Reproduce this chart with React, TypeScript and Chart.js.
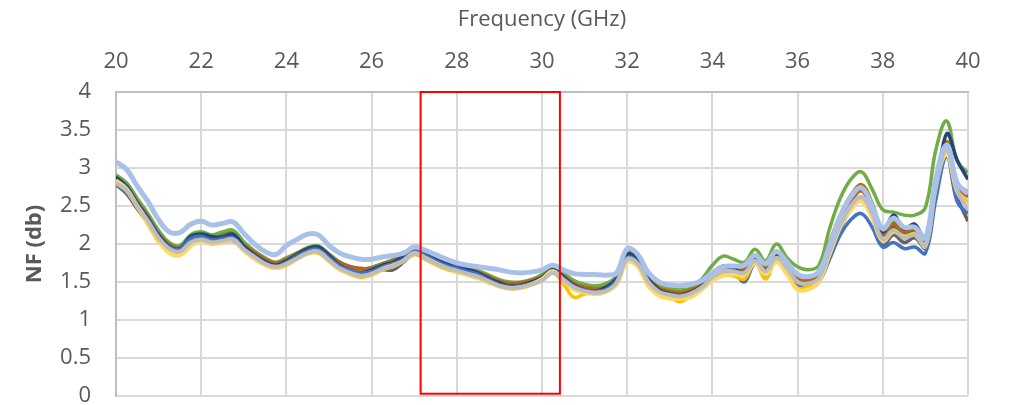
import { useEffect, useRef } from "react";
import { Chart, registerables } from "chart.js";

Chart.register(...registerables);

// Measurement frequencies (GHz)
const freqGHz = [
  20.0, 20.25, 20.5, 20.75, 21.0, 21.25, 21.5, 21.75, 22.0, 22.25,
  22.5, 22.75, 23.0, 23.25, 23.5, 23.75, 24.0, 24.25, 24.5, 24.75,
  25.0, 25.25, 25.5, 25.75, 26.0, 26.25, 26.5, 26.75, 27.0, 27.25,
  27.5, 27.75, 28.0, 28.25, 28.5, 28.75, 29.0, 29.25, 29.5, 29.75,
  30.0, 30.25, 30.5, 30.75, 31.0, 31.25, 31.5, 31.75, 32.0, 32.25,
  32.5, 32.75, 33.0, 33.25, 33.5, 33.75, 34.0, 34.25, 34.5, 34.75,
  35.0, 35.25, 35.5, 35.75, 36.0, 36.25, 36.5, 36.75, 37.0, 37.25,
  37.5, 37.75, 38.0, 38.25, 38.5, 38.75, 39.0, 39.25, 39.5, 39.75,
  40.0,
];

// Noise figure (dB) per measured channel
const nfLightBlue = [
  3.08, 2.98, 2.76, 2.56, 2.32, 2.16, 2.15, 2.26, 2.3, 2.25,
  2.27, 2.29, 2.14, 2.0, 1.9, 1.86, 1.98, 2.06, 2.13, 2.12,
  1.98, 1.88, 1.83, 1.8, 1.8, 1.83, 1.85, 1.88, 1.96, 1.92,
  1.86, 1.8, 1.75, 1.72, 1.7, 1.68, 1.66, 1.63, 1.62, 1.63,
  1.66, 1.72, 1.66, 1.61, 1.6, 1.6, 1.59, 1.62, 1.94, 1.86,
  1.62, 1.5, 1.46, 1.45, 1.47, 1.52, 1.62, 1.7, 1.71, 1.72,
  1.85, 1.74, 1.9, 1.76, 1.6, 1.57, 1.64, 1.98, 2.36, 2.62,
  2.74, 2.5, 2.2, 2.34, 2.22, 2.22, 2.08, 2.88, 3.3, 2.8,
  2.66,
];
const nfBlue = [
  2.84, 2.74, 2.52, 2.32, 2.1, 1.96, 1.93, 2.07, 2.1, 2.05,
  2.07, 2.08, 1.94, 1.84, 1.75, 1.7, 1.76, 1.84, 1.91, 1.93,
  1.82, 1.71, 1.66, 1.62, 1.64, 1.7, 1.74, 1.8, 1.92, 1.85,
  1.78, 1.72, 1.68, 1.64, 1.6, 1.53, 1.46, 1.43, 1.44, 1.48,
  1.54, 1.65, 1.55, 1.44, 1.39, 1.37, 1.4, 1.52, 1.82, 1.76,
  1.5, 1.35, 1.31, 1.3, 1.34, 1.42, 1.54, 1.62, 1.62, 1.5,
  1.74, 1.58, 1.78, 1.62, 1.45, 1.42, 1.5, 1.8, 2.12, 2.32,
  2.4, 2.22, 1.96, 2.02, 1.94, 1.96, 1.88, 2.6, 3.15, 2.55,
  2.4,
];
const nfDarkBlue = [
  2.88, 2.76, 2.54, 2.34, 2.12, 1.97, 1.94, 2.1, 2.13, 2.1,
  2.09, 2.13, 1.97, 1.86, 1.77, 1.72, 1.78, 1.86, 1.94, 1.96,
  1.85, 1.72, 1.65, 1.62, 1.66, 1.72, 1.76, 1.84, 1.92, 1.87,
  1.8, 1.74, 1.71, 1.67, 1.62, 1.55, 1.49, 1.45, 1.46, 1.5,
  1.56, 1.67, 1.57, 1.46, 1.4, 1.38, 1.43, 1.55, 1.86, 1.8,
  1.54, 1.4, 1.35, 1.33, 1.37, 1.45, 1.58, 1.66, 1.67, 1.62,
  1.8, 1.64, 1.84, 1.66, 1.46, 1.44, 1.56, 1.92, 2.28, 2.5,
  2.62, 2.42, 2.16, 2.38, 2.2, 2.26, 2.04, 2.7, 3.45, 3.1,
  2.85,
];
const nfYellow = [
  2.82, 2.7, 2.48, 2.26, 2.03, 1.9, 1.86, 1.98, 2.06, 2.02,
  2.04, 2.06, 1.92, 1.82, 1.73, 1.68, 1.72, 1.8, 1.87, 1.88,
  1.77, 1.66, 1.6, 1.56, 1.59, 1.66, 1.7, 1.77, 1.86, 1.8,
  1.73, 1.67, 1.63, 1.59, 1.55, 1.49, 1.44, 1.41, 1.42, 1.46,
  1.52, 1.62, 1.48, 1.3, 1.34, 1.36, 1.38, 1.48, 1.78, 1.72,
  1.46, 1.34, 1.3, 1.24, 1.33, 1.42, 1.54, 1.6, 1.58, 1.54,
  1.76, 1.54, 1.79, 1.62, 1.42, 1.44, 1.52, 1.88, 2.24, 2.48,
  2.58, 2.36, 2.06, 2.18, 2.08, 2.14, 1.98, 2.8, 3.22, 2.7,
  2.55,
];
const nfLightYellow = [
  2.84, 2.72, 2.5, 2.28, 2.05, 1.88, 1.85, 1.97, 2.04, 2.0,
  2.02, 2.05, 1.91, 1.8, 1.72, 1.68, 1.73, 1.81, 1.88, 1.9,
  1.78, 1.67, 1.61, 1.58, 1.6, 1.67, 1.72, 1.78, 1.88, 1.82,
  1.75, 1.69, 1.64, 1.6, 1.56, 1.5, 1.45, 1.42, 1.43, 1.47,
  1.54, 1.64, 1.52, 1.4, 1.36, 1.34, 1.37, 1.47, 1.76, 1.7,
  1.44, 1.32, 1.28, 1.28, 1.3, 1.4, 1.52, 1.58, 1.6, 1.6,
  1.74, 1.6, 1.76, 1.6, 1.4, 1.4, 1.5, 1.86, 2.22, 2.45,
  2.56, 2.34, 2.04, 2.16, 2.1, 2.12, 1.97, 2.78, 3.18, 2.68,
  2.5,
];
const nfGray = [
  2.8, 2.7, 2.5, 2.3, 2.08, 1.94, 1.9, 2.02, 2.06, 2.02,
  2.04, 2.06, 1.93, 1.83, 1.74, 1.7, 1.74, 1.81, 1.88, 1.9,
  1.79, 1.68, 1.62, 1.58, 1.61, 1.67, 1.71, 1.78, 1.87, 1.81,
  1.75, 1.69, 1.65, 1.61, 1.57, 1.51, 1.45, 1.42, 1.43, 1.47,
  1.52, 1.62, 1.53, 1.43, 1.38, 1.36, 1.38, 1.49, 1.8, 1.74,
  1.5, 1.37, 1.33, 1.31, 1.35, 1.43, 1.56, 1.64, 1.64, 1.62,
  1.78, 1.64, 1.82, 1.68, 1.5, 1.48, 1.55, 1.9, 2.25, 2.5,
  2.62, 2.4, 2.06, 2.18, 2.08, 2.12, 1.98, 2.75, 3.25, 2.7,
  2.45,
];
const nfDarkGray = [
  2.78, 2.66, 2.46, 2.28, 2.06, 1.95, 1.92, 2.02, 2.05, 2.0,
  2.02, 2.04, 1.92, 1.82, 1.74, 1.7, 1.75, 1.82, 1.88, 1.89,
  1.78, 1.69, 1.63, 1.58, 1.6, 1.66, 1.66, 1.76, 1.88, 1.82,
  1.74, 1.68, 1.64, 1.6, 1.56, 1.5, 1.46, 1.44, 1.45, 1.48,
  1.54, 1.64, 1.55, 1.45, 1.4, 1.38, 1.4, 1.5, 1.78, 1.74,
  1.5, 1.38, 1.34, 1.33, 1.36, 1.44, 1.56, 1.63, 1.64, 1.63,
  1.78, 1.66, 1.82, 1.66, 1.5, 1.48, 1.52, 1.84, 2.2, 2.46,
  2.6, 2.36, 1.98, 2.12, 2.02, 2.08, 1.95, 2.78, 3.28, 2.62,
  2.3,
];
const nfBrown = [
  2.85, 2.76, 2.55, 2.36, 2.13, 1.99, 1.95, 2.07, 2.12, 2.08,
  2.1, 2.12, 1.99, 1.89, 1.8, 1.75, 1.8, 1.87, 1.94, 1.96,
  1.85, 1.76, 1.7, 1.68, 1.68, 1.73, 1.78, 1.83, 1.9, 1.86,
  1.8, 1.74, 1.7, 1.67, 1.63, 1.57, 1.51, 1.48, 1.49, 1.52,
  1.57, 1.66, 1.58, 1.48, 1.43, 1.41, 1.43, 1.54, 1.84, 1.78,
  1.54, 1.41, 1.37, 1.35, 1.38, 1.46, 1.6, 1.68, 1.68, 1.67,
  1.82, 1.69, 1.86, 1.72, 1.54, 1.52, 1.6, 1.96, 2.3, 2.56,
  2.7, 2.46, 2.14, 2.26, 2.16, 2.2, 2.04, 2.86, 3.3, 2.76,
  2.62,
];
const nfOlive = [
  2.87, 2.76, 2.55, 2.34, 2.12, 1.97, 1.93, 2.05, 2.08, 2.05,
  2.06, 2.1, 1.96, 1.86, 1.77, 1.73, 1.79, 1.87, 1.94, 1.96,
  1.86, 1.74, 1.68, 1.65, 1.66, 1.72, 1.75, 1.8, 1.9, 1.85,
  1.79, 1.73, 1.68, 1.64, 1.6, 1.54, 1.48, 1.46, 1.46, 1.5,
  1.55, 1.66, 1.57, 1.47, 1.42, 1.4, 1.42, 1.53, 1.86, 1.81,
  1.55, 1.42, 1.38, 1.36, 1.4, 1.48, 1.62, 1.7, 1.7, 1.7,
  1.83, 1.7, 1.87, 1.76, 1.56, 1.54, 1.64, 2.02, 2.38, 2.64,
  2.78, 2.54, 2.18, 2.3, 2.2, 2.26, 2.06, 2.8, 3.35, 2.8,
  2.68,
];
const nfGreen = [
  2.91, 2.8, 2.6, 2.4, 2.18, 2.02, 1.98, 2.12, 2.16, 2.12,
  2.16, 2.18, 2.03, 1.91, 1.82, 1.76, 1.82, 1.88, 1.95, 1.97,
  1.87, 1.76, 1.7, 1.67, 1.69, 1.74, 1.79, 1.84, 1.92, 1.88,
  1.83, 1.77, 1.73, 1.69, 1.65, 1.59, 1.53, 1.5, 1.5, 1.53,
  1.6, 1.72, 1.62, 1.52, 1.47, 1.45, 1.48, 1.58, 1.9, 1.84,
  1.6, 1.46, 1.42, 1.4, 1.42, 1.54, 1.72, 1.84, 1.8, 1.76,
  1.93, 1.78, 2.0, 1.82, 1.7, 1.66, 1.72, 2.2, 2.6, 2.85,
  2.95, 2.72, 2.45, 2.42, 2.38, 2.38, 2.48, 3.25, 3.62, 3.08,
  2.94,
];
const nfDarkGreen = [
  2.9, 2.8, 2.58, 2.38, 2.16, 2.0, 1.97, 2.1, 2.15, 2.11,
  2.13, 2.16, 2.01, 1.9, 1.8, 1.75, 1.81, 1.88, 1.95, 1.97,
  1.86, 1.76, 1.7, 1.66, 1.69, 1.74, 1.79, 1.85, 1.92, 1.88,
  1.82, 1.76, 1.72, 1.68, 1.64, 1.58, 1.51, 1.48, 1.49, 1.53,
  1.59, 1.69, 1.6, 1.5, 1.45, 1.43, 1.45, 1.55, 1.84, 1.78,
  1.55, 1.43, 1.39, 1.37, 1.41, 1.49, 1.62, 1.71, 1.68, 1.65,
  1.82, 1.7, 1.88, 1.7, 1.54, 1.52, 1.6, 1.92, 2.22, 2.48,
  2.6, 2.4, 2.12, 2.22, 2.14, 2.16, 2.02, 2.8, 3.22, 2.62,
  2.55,
];

// Series in drawing order (later ones sit on top)
const channelSeries: { values: number[]; color: string; width: number }[] = [
  { values: nfLightBlue, color: "#A9C1E8", width: 5 },
  { values: nfGray, color: "#BDBDBD", width: 4 },
  { values: nfLightYellow, color: "#FFD966", width: 4 },
  { values: nfYellow, color: "#FFC000", width: 3.5 },
  { values: nfBlue, color: "#4472C4", width: 3.5 },
  { values: nfDarkGray, color: "#636363", width: 3.5 },
  { values: nfDarkBlue, color: "#264478", width: 3.5 },
  { values: nfBrown, color: "#B5651D", width: 3.5 },
  { values: nfOlive, color: "#A67C00", width: 3.5 },
  { values: nfGreen, color: "#70AD47", width: 3.5 },
  { values: nfDarkGreen, color: "#4E7B2F", width: 3.5 },
];

// Highlighted band (GHz) and its vertical extent (dB)
const bandStartGHz = 27.15;
const bandEndGHz = 30.42;
const bandTopDb = 4;
const bandBottomDb = 0.03;

const FONT = "'Open Sans', 'Noto Sans', sans-serif";
const TEXT = "#595959";
const GRID = "#D9D9D9";

const bandBox = {
  id: "bandBox",
  afterDatasetsDraw(chart: any) {
    const { ctx, scales } = chart;
    const x = scales.x;
    const y = scales.y;
    const l = x.getPixelForValue(bandStartGHz);
    const r = x.getPixelForValue(bandEndGHz);
    const t = y.getPixelForValue(bandTopDb);
    const b = y.getPixelForValue(bandBottomDb);
    ctx.save();
    ctx.strokeStyle = "#FF0000";
    ctx.lineWidth = 2;
    ctx.strokeRect(l, t, r - l, b - t);
    ctx.restore();
  },
};

export default function App() {
  const canvasRef = useRef<HTMLCanvasElement | null>(null);

  useEffect(() => {
    if (!canvasRef.current) return;
    const chart = new Chart(canvasRef.current, {
      type: "line",
      data: {
        datasets: channelSeries.map((s, i) => ({
          label: `CH${i + 1}`,
          data: s.values.map((v, k) => ({ x: freqGHz[k], y: v })),
          borderColor: s.color,
          backgroundColor: s.color,
          borderWidth: s.width,
          pointRadius: 0,
          tension: 0.4,
          fill: false,
        })),
      },
      options: {
        responsive: false,
        animation: false,
        layout: { padding: { left: 0, right: 44, top: 0, bottom: 9 } },
        plugins: {
          legend: { display: false },
          tooltip: { enabled: false },
        },
        scales: {
          x: {
            type: "linear",
            position: "top",
            min: 20,
            max: 40,
            ticks: {
              stepSize: 2,
              color: TEXT,
              font: { family: FONT, size: 22 },
              padding: 17,
              maxRotation: 0,
            },
            grid: { color: GRID, lineWidth: 2, drawTicks: false },
            border: { color: "#BFBFBF", width: 2 },
            title: {
              display: true,
              text: "Frequency (GHz)",
              color: TEXT,
              font: { family: FONT, size: 22 },
              padding: { top: 7, bottom: 0 },
            },
            afterFit(scale: any) {
              scale.height = 92;
              scale.paddingLeft = 0;
              scale.paddingRight = 0;
            },
          },
          y: {
            min: 0,
            max: 4,
            ticks: {
              stepSize: 0.5,
              color: TEXT,
              font: { family: FONT, size: 22 },
              padding: 25,
              callback: (v: any) => String(v),
            },
            grid: { color: GRID, lineWidth: 2, drawTicks: false },
            border: { color: "#BFBFBF", width: 2 },
            title: {
              display: true,
              text: "NF (db)",
              color: TEXT,
              font: { family: FONT, size: 22, weight: "bold" },
              padding: { top: 22, bottom: 0 },
            },
            afterFit(scale: any) {
              scale.width = 116;
              scale.paddingTop = 0;
              scale.paddingBottom = 0;
            },
          },
        },
      },
      plugins: [bandBox],
    });
    return () => chart.destroy();
  }, []);

  return (
    <div style={{ position: "fixed", left: 0, top: 0, width: 1012, height: 405, background: "#fff" }}>
      <canvas ref={canvasRef} width={1012} height={405} style={{ display: "block" }} />
    </div>
  );
}
